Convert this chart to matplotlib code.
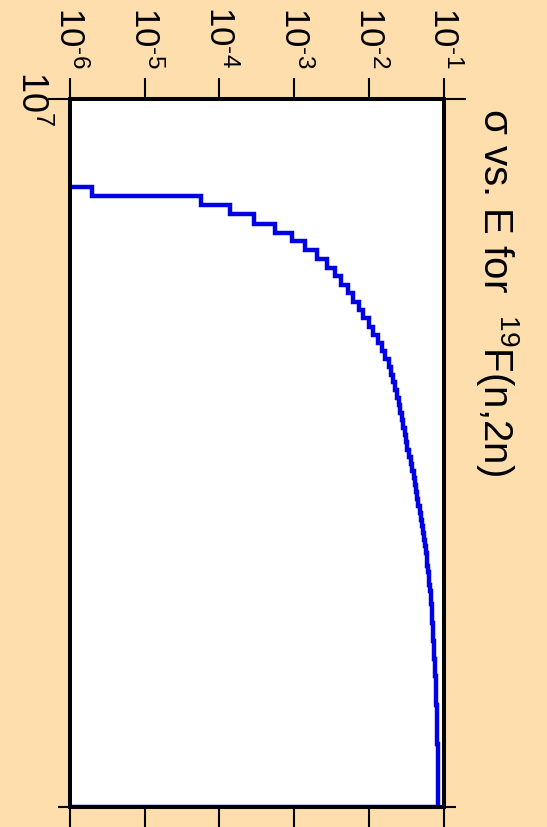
import numpy as np
import matplotlib
matplotlib.use("Agg")
import matplotlib.pyplot as plt
from matplotlib.ticker import FixedLocator, NullLocator, FixedFormatter

plt.rcParams["font.family"] = "Liberation Sans"
plt.rcParams["mathtext.fontset"] = "custom"
plt.rcParams["mathtext.rm"] = "Liberation Sans"
plt.rcParams["mathtext.it"] = "Liberation Sans:italic"

# 0.1 MeV energy bins (eV) and the (n,2n) cross section in each bin (barns)
edges = np.round(np.arange(10.9, 20.05, 0.1), 1) * 1e6
sigma = [
    1.96e-6, 5.62e-5, 1.39e-4, 2.93e-4, 5.53e-4, 9.26e-4, 1.39e-3, 2.00e-3,
    2.72e-3, 3.56e-3, 4.23e-3, 5.19e-3, 6.17e-3, 7.28e-3, 8.39e-3, 9.91e-3,
    1.13e-2, 1.31e-2, 1.48e-2, 1.65e-2, 1.83e-2, 1.97e-2, 2.09e-2, 2.23e-2,
    2.37e-2, 2.50e-2, 2.63e-2, 2.75e-2, 2.86e-2, 2.99e-2, 3.13e-2, 3.27e-2,
    3.43e-2, 3.59e-2, 3.76e-2, 3.94e-2, 4.12e-2, 4.28e-2, 4.44e-2, 4.59e-2,
    4.75e-2, 4.91e-2, 5.08e-2, 5.26e-2, 5.43e-2, 5.61e-2, 5.74e-2, 5.89e-2,
    6.04e-2, 6.17e-2, 6.30e-2, 6.41e-2, 6.53e-2, 6.67e-2, 6.79e-2, 6.87e-2,
    6.95e-2, 7.05e-2, 7.13e-2, 7.21e-2, 7.28e-2, 7.35e-2, 7.41e-2, 7.48e-2,
    7.55e-2, 7.62e-2, 7.69e-2, 7.76e-2, 7.83e-2, 7.88e-2, 7.94e-2, 7.99e-2,
    8.03e-2, 8.06e-2, 8.10e-2, 8.13e-2, 8.16e-2, 8.19e-2, 8.22e-2, 8.25e-2,
    8.27e-2, 8.30e-2, 8.32e-2, 8.34e-2, 8.36e-2, 8.38e-2, 8.40e-2, 8.41e-2,
    8.43e-2, 8.44e-2, 8.46e-2,
]

sigma_ticks = [1e-6, 1e-5, 1e-4, 1e-3, 1e-2, 1e-1]
sigma_labels = ["$10^{‐6}$", "$10^{‐5}$", "$10^{‐4}$", "$10^{‐3}$", "$10^{‐2}$", "$10^{‐1}$"]
energy_ticks = [1e7]
energy_labels = ["$10^{7}$"]
energy_minor = [2e7]

bg = "#ffdead"
fig = plt.figure(figsize=(5.47, 8.27), dpi=100, facecolor=bg)
ax = fig.add_axes([0.1276, 0.0245, 0.6837, 0.8562])
ax.set_facecolor("white")

# page is turned on its side: cross section runs across, energy runs down
ax.stairs(sigma, edges, orientation="horizontal", baseline=1e-9,
          color="#0000e6", linewidth=3.2)

ax.set_xscale("log")
ax.set_yscale("log")
ax.set_xlim(1e-6, 1e-1)
ax.set_ylim(2e7, 1e7)

ax.xaxis.set_major_locator(FixedLocator(sigma_ticks))
ax.xaxis.set_major_formatter(FixedFormatter(sigma_labels))
ax.xaxis.set_minor_locator(NullLocator())
ax.yaxis.set_major_locator(FixedLocator(energy_ticks))
ax.yaxis.set_major_formatter(FixedFormatter(energy_labels))
ax.yaxis.set_minor_locator(FixedLocator(energy_minor))
ax.yaxis.set_minor_formatter(FixedFormatter([""]))

ax.tick_params(axis="x", which="both", direction="out", top=True, bottom=True,
               labeltop=True, labelbottom=False, length=15, width=1.5,
               labelsize=25, pad=7, labelrotation=-90)
ax.tick_params(axis="y", which="both", direction="out", left=True, right=True,
               labelleft=True, labelright=False, width=1.5,
               labelsize=26, pad=-1, labelrotation=-90)
ax.tick_params(axis="y", which="major", length=16)
ax.tick_params(axis="y", which="minor", length=8.5)

for lab in ax.get_xticklabels():
    lab.set_ha("center")
    lab.set_va("bottom")
for lab in ax.get_yticklabels():
    lab.set_ha("right")
    lab.set_va("center")

for s in ax.spines.values():
    s.set_linewidth(2.9)
    s.set_color("black")

fig.text(497 / 547, 1 - 108 / 827, "σ vs. E for  $^{19}$F(n,2n)",
         rotation=-90, ha="center", va="top", fontsize=29)

fig.savefig("out.png", dpi=100, facecolor=bg)
